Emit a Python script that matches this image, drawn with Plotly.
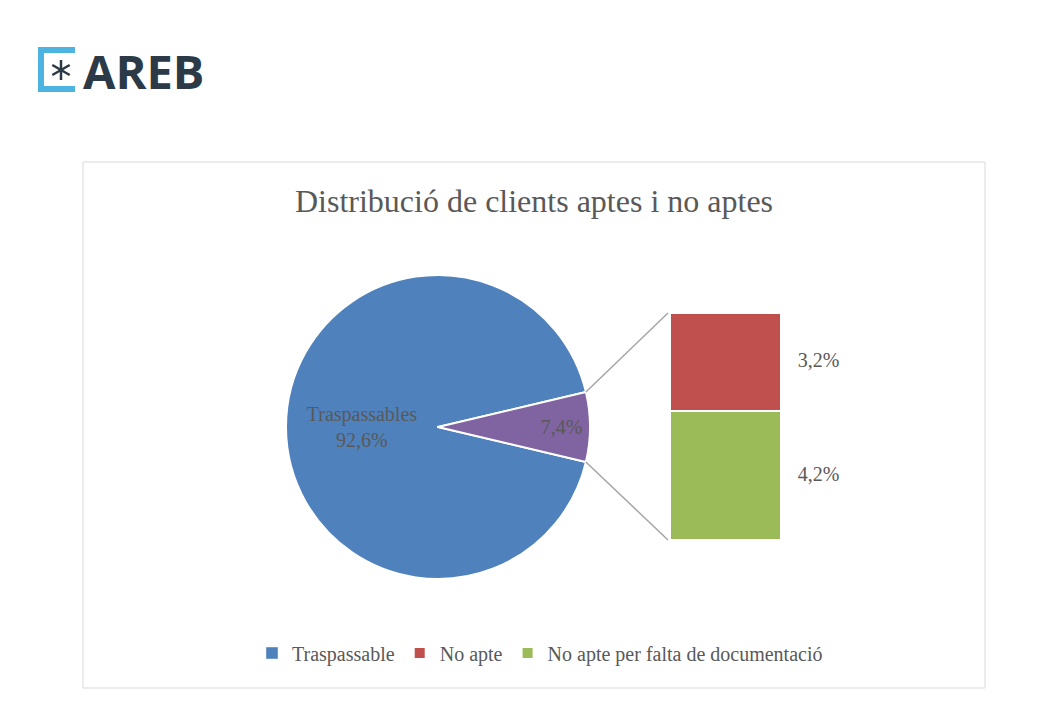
import math
import plotly.graph_objects as go

# Data (percentages)
pie_labels = ["Traspassables", "No aptes"]
pie_values = [92.6, 7.4]
bar_labels = ["No apte per falta de documentació", "No apte"]
bar_values = [4.2, 3.2]
legend_names = ["Traspassable", "No apte", "No apte per falta de documentació"]

BLUE = "#4F81BD"
RED = "#C0504D"
GREEN = "#9BBB59"
PURPLE = "#8064A2"
TXT = "#595959"
FONT = "Liberation Serif"

W, H = 1051, 709

# pie geometry in pixels
cx, cy, r = 438, 427, 152
# bar axis geometry in pixels
bar_left, bar_right = 670, 781
bar_bottom, bar_top = 540, 313


def px(x):
    return x / W


def py(y):
    return (H - y) / H


fig = go.Figure()

fig.add_trace(go.Pie(
    labels=pie_labels,
    values=pie_values,
    sort=False,
    direction="clockwise",
    rotation=90 + 360 * pie_values[1] / sum(pie_values) / 2,
    marker=dict(colors=[BLUE, PURPLE], line=dict(color="white", width=2)),
    texttemplate=["%{label}<br>%{percent:.1%}", "%{percent:.1%}"],
    textposition="inside",
    insidetextorientation="horizontal",
    textfont=dict(family=FONT, size=20, color=TXT),
    domain=dict(x=[px(cx - r), px(cx + r)], y=[py(cy + r), py(cy - r)]),
    showlegend=False,
    hoverinfo="label+percent",
))

bar_colors = [GREEN, RED]
ranks = [3, 2]
for name, val, col, rk in zip(bar_labels, bar_values, bar_colors, ranks):
    fig.add_trace(go.Bar(
        x=[0.5], y=[val], width=1, name=name, legendrank=rk,
        marker=dict(color=col, line=dict(color="white", width=2)),
    ))

# legend-only entry for the big slice
fig.add_trace(go.Bar(x=[None], y=[None], name=legend_names[0], legendrank=1,
                     marker=dict(color=BLUE)))

# bar value labels
cum = 0
mids = []
for v in bar_values:
    mids.append(cum + v / 2)
    cum += v
fig.add_trace(go.Scatter(
    x=[1.15] * len(bar_values), y=mids, mode="text",
    text=[f"{v:.1f}%".replace(".", ",") for v in bar_values],
    textposition="middle right",
    textfont=dict(family=FONT, size=20, color=TXT),
    showlegend=False, hoverinfo="skip",
))

unit = bar_right - bar_left
fig.update_xaxes(range=[0, 2], domain=[px(bar_left), px(bar_left + 2 * unit)],
                 visible=False, fixedrange=True)
fig.update_yaxes(range=[0, sum(bar_values)],
                 domain=[py(bar_bottom), py(bar_top)],
                 visible=False, fixedrange=True)

# connector lines from the slice edge to the bar
half = math.pi * pie_values[1] / sum(pie_values)
px0 = cx + r * math.cos(half)
for sgn, by in [(-1, bar_top), (1, bar_bottom)]:
    py0 = cy + sgn * r * math.sin(half)
    fig.add_shape(type="line", xref="paper", yref="paper",
                  x0=px(px0), y0=py(py0), x1=px(bar_left - 2), y1=py(by),
                  line=dict(color="#A6A6A6", width=1.5))

# chart border
fig.add_shape(type="rect", xref="paper", yref="paper",
              x0=px(83), y0=py(688), x1=px(985), y1=py(162),
              line=dict(color="#D9D9D9", width=1), layer="below")

# logo: bracket, asterisk, wordmark
LOGO_DARK = "#2B3A46"
fig.add_shape(type="path", xref="paper", yref="paper",
              path=f"M {px(75)} {py(50)} L {px(41)} {py(50)} L {px(41)} {py(89)} L {px(75)} {py(89)}",
              line=dict(color="#4DB3E0", width=6))
ax, ay, ar = 61, 70, 10
for ang in (90, 30, 150):
    dx = ar * math.cos(math.radians(ang))
    dy = ar * math.sin(math.radians(ang))
    fig.add_shape(type="line", xref="paper", yref="paper",
                  x0=px(ax - dx), y0=py(ay - dy), x1=px(ax + dx), y1=py(ay + dy),
                  line=dict(color=LOGO_DARK, width=2.5))
fig.add_annotation(x=px(81), y=py(71), xref="paper", yref="paper",
                   xanchor="left", yanchor="middle", text="<b>AREB</b>", showarrow=False,
                   font=dict(family="Open Sans", size=47, color=LOGO_DARK))

fig.update_layout(
    width=W, height=H,
    margin=dict(l=0, r=0, t=0, b=0),
    paper_bgcolor="white", plot_bgcolor="rgba(0,0,0,0)",
    separators=",.",
    barmode="stack",
    title=dict(text="Distribució de clients aptes i no aptes",
               x=px(534), xanchor="center", y=py(201), yanchor="middle",
               font=dict(family=FONT, size=32, color=TXT)),
    legend=dict(orientation="h", x=px(540), xanchor="center",
                y=py(653), yanchor="middle",
                font=dict(family=FONT, size=20, color=TXT),
                traceorder="normal", itemwidth=30),
    font=dict(family=FONT, color=TXT),
)

fig.write_html("out.html", config={"displayModeBar": False},
               post_script="document.body.style.margin='0';")
